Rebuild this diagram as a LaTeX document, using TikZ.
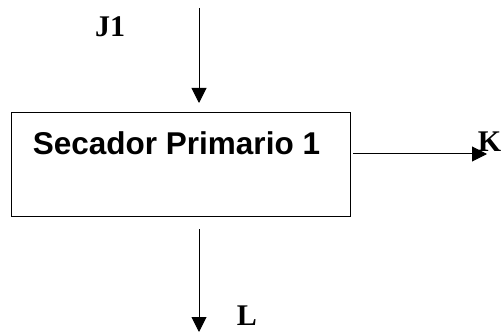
\documentclass[tikz,border=0pt]{standalone}
\usepackage{fontspec}
\setmainfont{Liberation Serif}
\setsansfont{Liberation Sans}
\usetikzlibrary{arrows.meta,positioning}

\tikzset{
  flow/.style={line width=1pt,-{Triangle[length=15pt,width=15pt]}},
  stream/.style={font=\fontsize{30}{36}\selectfont\bfseries,inner sep=0pt,anchor=base},
  unit/.style={draw,line width=1pt,minimum width=339pt,minimum height=103pt,inner sep=0pt}
}

\begin{document}
\begin{tikzpicture}[x=1pt,y=-1pt]
  \useasboundingbox (0,0) rectangle (501,334);
  \pgfmathsetmacro {\xa}{199} %x of the vertical streams

  %Dryer
  \node[unit] (secador) at (180.5,164.5) {};
  \node[font=\fontsize{31.5}{38}\selectfont\sffamily\bfseries,inner sep=0pt,anchor=base]
    (secadortxt) at (176.5,155) {Secador Primario 1};

  %Feed from the top
  \coordinate (jin)  at (\xa,8);
  \coordinate (jout) at (\xa,103);
  \draw[flow] (jin) -- (jout);
  \node[stream] (j1) at (110,37) {J1};

  %Vapour to the right
  \coordinate (kin)  at (353,154);
  \coordinate (kout) at (487,154);
  \draw[flow] (kin) -- (kout);
  \node[stream] (k) at (489.5,152) {K};

  %Product leaving below
  \coordinate (lin)  at (\xa,229);
  \coordinate (lout) at (\xa,332);
  \draw[flow] (lin) -- (lout);
  \node[stream] (l) at (247,325) {L};
\end{tikzpicture}
\end{document}
